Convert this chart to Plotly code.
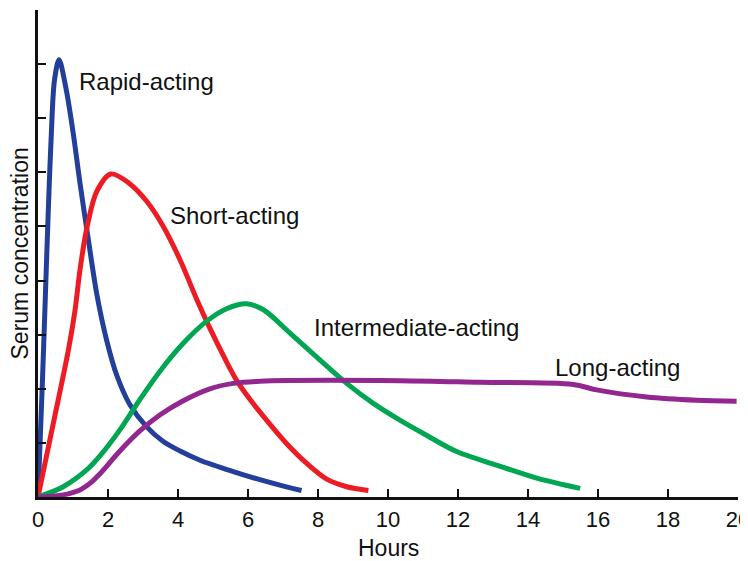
import plotly.graph_objects as go

# Data (hours, relative serum concentration)
rapid_x = [0, 0.13, 0.22, 0.3, 0.38, 0.47, 0.6, 0.8, 1.0, 1.2, 1.44, 1.68, 1.96, 2.25, 2.63, 3.1, 3.57, 4.06, 4.63, 5.58, 6.34, 6.91, 7.53]
rapid_y = [0, 2.2, 3.9, 5.4, 6.7, 7.7, 8.08, 7.55, 6.75, 5.8, 4.75, 3.75, 2.9, 2.25, 1.7, 1.3, 1.03, 0.85, 0.68, 0.47, 0.32, 0.22, 0.12]

short_x = [0, 0.45, 0.87, 1.06, 1.2, 1.39, 1.68, 2.08, 2.6, 3.1, 3.58, 4.06, 4.53, 4.91, 5.29, 5.68, 6.06, 6.53, 7.1, 7.68, 8.25, 8.82, 9.44]
short_y = [0, 1.4, 2.72, 3.46, 4.2, 4.95, 5.65, 5.97, 5.8, 5.47, 5.0, 4.38, 3.66, 3.12, 2.62, 2.15, 1.8, 1.42, 0.99, 0.62, 0.33, 0.19, 0.12]

inter_x = [0, 0.72, 1.39, 1.77, 2.34, 2.91, 3.49, 4.15, 4.82, 5.39, 5.96, 6.44, 7.2, 8.06, 8.82, 9.58, 10.34, 11.1, 11.96, 13.1, 14.25, 15.49]
inter_y = [0, 0.19, 0.5, 0.76, 1.24, 1.8, 2.33, 2.84, 3.25, 3.48, 3.57, 3.46, 3.03, 2.53, 2.1, 1.73, 1.42, 1.14, 0.84, 0.59, 0.35, 0.16]

long_x = [0, 0.72, 1.2, 1.5, 1.77, 2.34, 2.91, 3.49, 4.15, 4.91, 5.58, 6.34, 10.34, 12.63, 15.29, 15.96, 17.39, 18.82, 19.96]
long_y = [0, 0.04, 0.13, 0.26, 0.43, 0.85, 1.22, 1.52, 1.78, 2.0, 2.1, 2.14, 2.15, 2.12, 2.08, 1.98, 1.85, 1.79, 1.77]

series = [
    ("Rapid-acting", rapid_x, rapid_y, "#233F99"),
    ("Short-acting", short_x, short_y, "#ED1C24"),
    ("Intermediate-acting", inter_x, inter_y, "#00A651"),
    ("Long-acting", long_x, long_y, "#92278F"),
]

label_text = ["Rapid-acting", "Short-acting", "Intermediate-acting", "Long-acting"]
label_x = [1.12, 3.72, 7.82, 14.72]
label_y = [7.67, 5.21, 3.14, 2.4]

x_ticks = list(range(0, 21, 2))
y_ticks = list(range(0, 10))

FONT = "Liberation Sans, Arial"

fig = go.Figure()
for name, xs, ys, color in series:
    fig.add_trace(go.Scatter(
        x=xs, y=ys, mode="lines", name=name,
        line=dict(color=color, width=5, shape="spline", smoothing=0.9),
        hoverinfo="skip", cliponaxis=False,
    ))

for t, lx, ly in zip(label_text, label_x, label_y):
    fig.add_annotation(x=lx, y=ly, text=t, showarrow=False, xanchor="left",
                       yanchor="middle",
                       font=dict(family=FONT, size=24, color="#111"))

# axis titles
fig.add_annotation(x=0.5, xref="paper", y=0, yref="paper", yshift=-51,
                   text="Hours", showarrow=False, xanchor="center", yanchor="middle",
                   font=dict(family=FONT, size=23, color="#111"))
fig.add_annotation(x=0, xref="paper", xshift=-19, y=0.5, yref="paper",
                   text="Serum concentration", textangle=-90, showarrow=False,
                   xanchor="center", yanchor="middle",
                   font=dict(family=FONT, size=23, color="#111"))

# page body has an 8px default margin, so the figure is sized to fit the window
fig.update_layout(
    width=740, height=553,
    margin=dict(l=30, r=10, t=2, b=64),
    paper_bgcolor="white", plot_bgcolor="white",
    showlegend=False,
    font=dict(family=FONT, color="#111"),
)
fig.update_xaxes(
    range=[0, 20], tickvals=x_ticks, ticktext=[str(v) for v in x_ticks],
    showgrid=False, zeroline=False, showline=True, linecolor="#111", linewidth=2.5,
    ticks="inside", ticklen=8, tickwidth=2, tickcolor="#111",
    tickfont=dict(size=22), ticklabelstandoff=1, ticklabeloverflow="allow",
    automargin=False,
)
fig.update_yaxes(
    range=[0, 9], tickvals=y_ticks, showticklabels=False,
    showgrid=False, zeroline=False, showline=True, linecolor="#111", linewidth=2.5,
    ticks="inside", ticklen=8, tickwidth=2, tickcolor="#111",
    automargin=False,
)

fig.write_html("out.html")
